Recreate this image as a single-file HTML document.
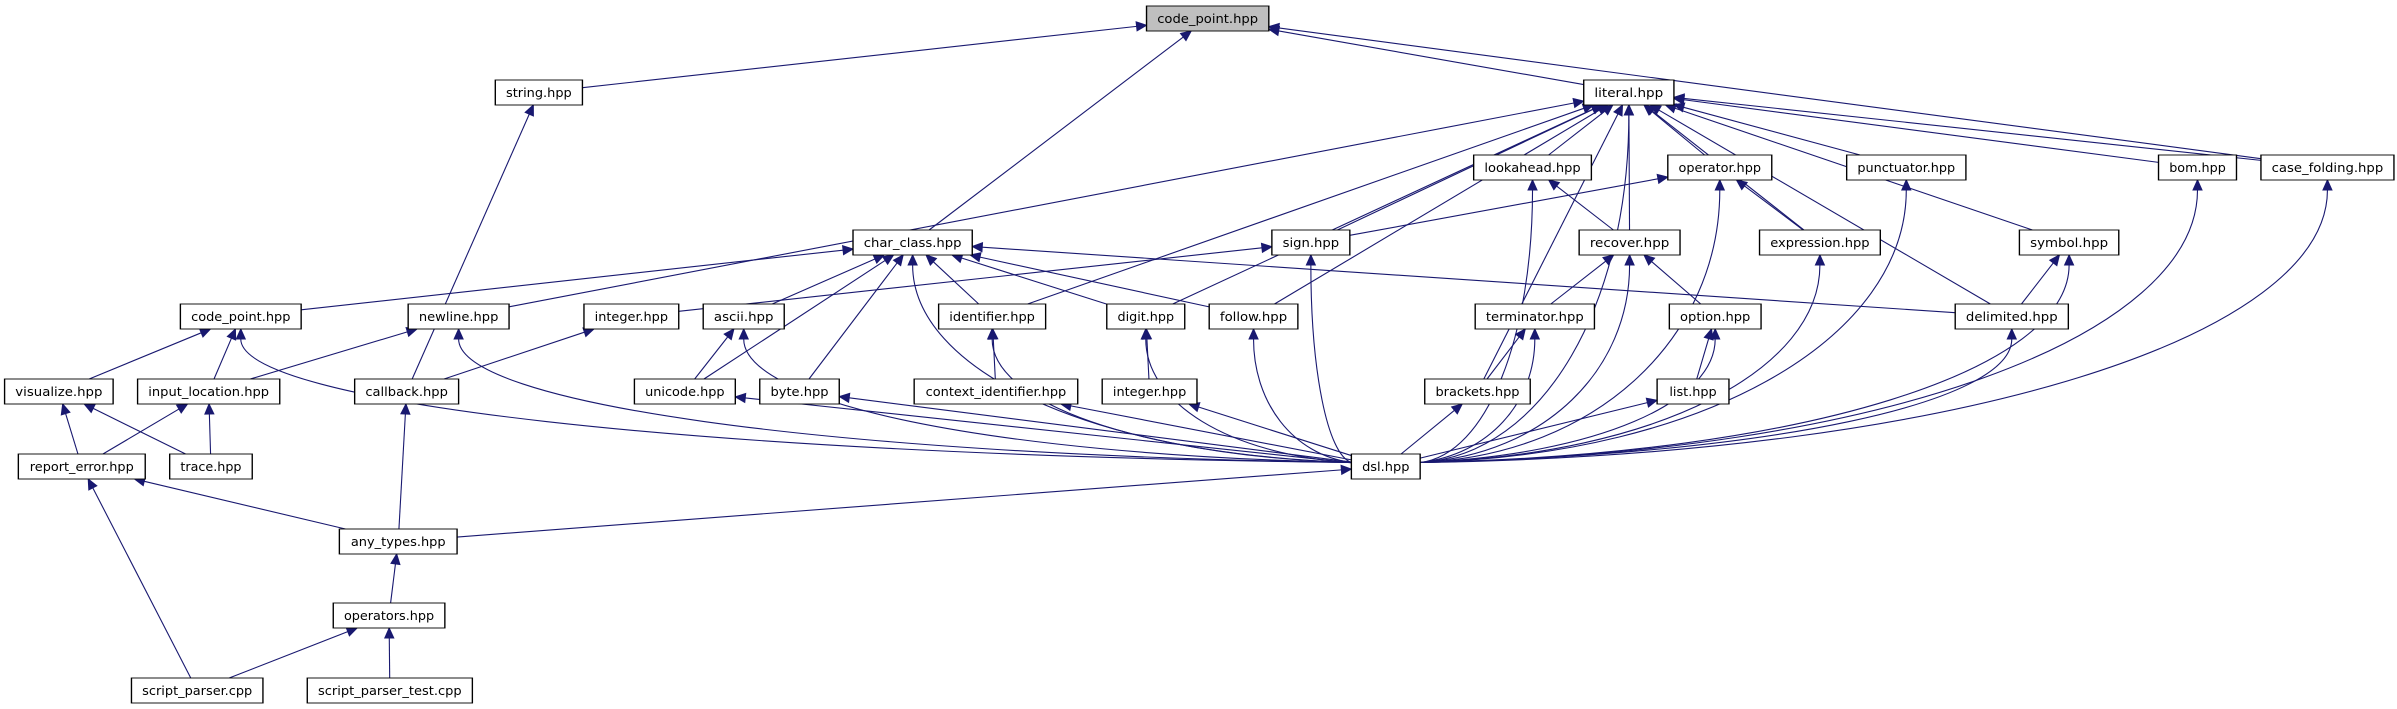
<!DOCTYPE html>
<html><head><meta charset="utf-8"><style>
html,body{margin:0;padding:0;background:#fff;}
#wrap{position:relative;width:2397px;height:709px;overflow:hidden;}
svg{position:absolute;left:0;top:0;}
text{font-family:"DejaVu Sans Condensed","Liberation Sans",sans-serif;font-size:12px;fill:#000;}
</style></head><body><div id="wrap">
<svg id="edges" width="2397" height="709"></svg>
<svg id="nodes" width="2397" height="709" viewBox="0 0 1568 709" preserveAspectRatio="none">
<g id="ng" stroke="#000" stroke-width="0.9" fill="#fff">
<rect x="750" y="6" width="80" height="25" fill="#bfbfbf"/>
<rect x="324" y="80" width="57" height="25"/>
<rect x="1036" y="80" width="59" height="25"/>
<rect x="964" y="155" width="77" height="25"/>
<rect x="1091" y="155" width="68" height="25"/>
<rect x="1208" y="155" width="78" height="25"/>
<rect x="1412" y="155" width="51" height="25"/>
<rect x="1479" y="155" width="87" height="25"/>
<rect x="558" y="230" width="78" height="25"/>
<rect x="832" y="230" width="51" height="25"/>
<rect x="1033" y="230" width="66" height="25"/>
<rect x="1151" y="230" width="79" height="25"/>
<rect x="1321" y="230" width="65" height="25"/>
<rect x="118" y="304" width="79" height="25"/>
<rect x="267" y="304" width="66" height="25"/>
<rect x="382" y="304" width="62" height="25"/>
<rect x="460" y="304" width="53" height="25"/>
<rect x="614" y="304" width="70" height="25"/>
<rect x="724" y="304" width="51" height="25"/>
<rect x="791" y="304" width="58" height="25"/>
<rect x="965" y="304" width="78" height="25"/>
<rect x="1092" y="304" width="60" height="25"/>
<rect x="1279" y="304" width="74" height="25"/>
<rect x="3" y="379" width="71" height="25"/>
<rect x="90" y="379" width="93" height="25"/>
<rect x="232" y="379" width="68" height="25"/>
<rect x="415" y="379" width="66" height="25"/>
<rect x="497" y="379" width="52" height="25"/>
<rect x="598" y="379" width="107" height="25"/>
<rect x="721" y="379" width="62" height="25"/>
<rect x="932" y="379" width="69" height="25"/>
<rect x="1084" y="379" width="47" height="25"/>
<rect x="12" y="454" width="83" height="25"/>
<rect x="111" y="454" width="54" height="25"/>
<rect x="884" y="454" width="45" height="25"/>
<rect x="222" y="529" width="77" height="25"/>
<rect x="218" y="603" width="73" height="25"/>
<rect x="86" y="678" width="86" height="25"/>
<rect x="201" y="678" width="108" height="25"/>
</g>
<g text-anchor="middle">
<text x="790" y="23" textLength="66" lengthAdjust="spacingAndGlyphs">code_point.hpp</text>
<text x="352.5" y="97" textLength="43" lengthAdjust="spacingAndGlyphs">string.hpp</text>
<text x="1065.5" y="97" textLength="45" lengthAdjust="spacingAndGlyphs">literal.hpp</text>
<text x="1002.5" y="172" textLength="63" lengthAdjust="spacingAndGlyphs">lookahead.hpp</text>
<text x="1125" y="172" textLength="54" lengthAdjust="spacingAndGlyphs">operator.hpp</text>
<text x="1247" y="172" textLength="64" lengthAdjust="spacingAndGlyphs">punctuator.hpp</text>
<text x="1437.5" y="172" textLength="37" lengthAdjust="spacingAndGlyphs">bom.hpp</text>
<text x="1522.5" y="172" textLength="73" lengthAdjust="spacingAndGlyphs">case_folding.hpp</text>
<text x="597" y="247" textLength="64" lengthAdjust="spacingAndGlyphs">char_class.hpp</text>
<text x="857.5" y="247" textLength="37" lengthAdjust="spacingAndGlyphs">sign.hpp</text>
<text x="1066" y="247" textLength="52" lengthAdjust="spacingAndGlyphs">recover.hpp</text>
<text x="1190.5" y="247" textLength="65" lengthAdjust="spacingAndGlyphs">expression.hpp</text>
<text x="1353.5" y="247" textLength="51" lengthAdjust="spacingAndGlyphs">symbol.hpp</text>
<text x="157.5" y="321" textLength="65" lengthAdjust="spacingAndGlyphs">code_point.hpp</text>
<text x="300" y="321" textLength="52" lengthAdjust="spacingAndGlyphs">newline.hpp</text>
<text x="413" y="321" textLength="48" lengthAdjust="spacingAndGlyphs">integer.hpp</text>
<text x="486.5" y="321" textLength="39" lengthAdjust="spacingAndGlyphs">ascii.hpp</text>
<text x="649" y="321" textLength="56" lengthAdjust="spacingAndGlyphs">identifier.hpp</text>
<text x="749.5" y="321" textLength="37" lengthAdjust="spacingAndGlyphs">digit.hpp</text>
<text x="820" y="321" textLength="44" lengthAdjust="spacingAndGlyphs">follow.hpp</text>
<text x="1004" y="321" textLength="64" lengthAdjust="spacingAndGlyphs">terminator.hpp</text>
<text x="1122" y="321" textLength="46" lengthAdjust="spacingAndGlyphs">option.hpp</text>
<text x="1316" y="321" textLength="60" lengthAdjust="spacingAndGlyphs">delimited.hpp</text>
<text x="38.5" y="396" textLength="57" lengthAdjust="spacingAndGlyphs">visualize.hpp</text>
<text x="136.5" y="396" textLength="79" lengthAdjust="spacingAndGlyphs">input_location.hpp</text>
<text x="266" y="396" textLength="54" lengthAdjust="spacingAndGlyphs">callback.hpp</text>
<text x="448" y="396" textLength="52" lengthAdjust="spacingAndGlyphs">unicode.hpp</text>
<text x="523" y="396" textLength="38" lengthAdjust="spacingAndGlyphs">byte.hpp</text>
<text x="651.5" y="396" textLength="92" lengthAdjust="spacingAndGlyphs">context_identifier.hpp</text>
<text x="752" y="396" textLength="48" lengthAdjust="spacingAndGlyphs">integer.hpp</text>
<text x="966.5" y="396" textLength="55" lengthAdjust="spacingAndGlyphs">brackets.hpp</text>
<text x="1107.5" y="396" textLength="31" lengthAdjust="spacingAndGlyphs">list.hpp</text>
<text x="53.5" y="471" textLength="68" lengthAdjust="spacingAndGlyphs">report_error.hpp</text>
<text x="138" y="471" textLength="40" lengthAdjust="spacingAndGlyphs">trace.hpp</text>
<text x="906.5" y="471" textLength="31" lengthAdjust="spacingAndGlyphs">dsl.hpp</text>
<text x="260.5" y="546" textLength="62" lengthAdjust="spacingAndGlyphs">any_types.hpp</text>
<text x="254.5" y="620" textLength="59" lengthAdjust="spacingAndGlyphs">operators.hpp</text>
<text x="129" y="695" textLength="72" lengthAdjust="spacingAndGlyphs">script_parser.cpp</text>
<text x="255" y="695" textLength="94" lengthAdjust="spacingAndGlyphs">script_parser_test.cpp</text>
</g>
</svg>
<script>
(function(){
var k=2397/1568;
var N={
cpt:[750,830,6],string:[324,381,80],literal:[1036,1095,80],lookahead:[964,1041,155],operator:[1091,1159,155],
punct:[1208,1286,155],bom:[1412,1463,155],casef:[1479,1566,155],charc:[558,636,230],sign:[832,883,230],
recover:[1033,1099,230],expr:[1151,1230,230],symbol:[1321,1386,230],cp2:[118,197,304],newline:[267,333,304],
int1:[382,444,304],ascii:[460,513,304],ident:[614,684,304],digit:[724,775,304],follow:[791,849,304],
term:[965,1043,304],option:[1092,1152,304],delim:[1279,1353,304],visual:[3,74,379],inloc:[90,183,379],
callback:[232,300,379],unicode:[415,481,379],byte:[497,549,379],ctxid:[598,705,379],int2:[721,783,379],
brackets:[932,1001,379],list:[1084,1131,379],report:[12,95,454],trace:[111,165,454],dsl:[884,929,454],
anyt:[222,299,529],ops:[218,291,603],sp:[86,172,678],spt:[201,309,678]};
var E=[["string","cpt"],["charc","cpt"],["literal","cpt"],["casef","cpt"],["callback","string"],
["newline","literal"],["ident","literal"],["digit","literal"],["follow","literal"],["sign","literal"],
["lookahead","literal"],["recover","literal"],["operator","literal"],["expr","literal"],["punct","literal"],
["delim","literal"],["symbol","literal"],["bom","literal"],["casef","literal"],["dsl","literal"],["brackets","literal"],
["cp2","charc"],["ascii","charc"],["unicode","charc"],["byte","charc"],["ident","charc"],["digit","charc"],
["follow","charc"],["delim","charc"],["dsl","charc"],["int1","sign"],["sign","operator"],["dsl","sign"],
["recover","lookahead"],["dsl","lookahead"],["term","recover"],["option","recover"],["dsl","recover"],
["expr","operator"],["dsl","operator"],["dsl","expr"],["dsl","punct"],["delim","symbol"],["dsl","symbol"],
["dsl","bom"],["dsl","casef"],["dsl","delim"],["visual","cp2"],["inloc","cp2"],["dsl","cp2"],
["inloc","newline"],["dsl","newline"],["callback","int1"],["unicode","ascii"],["dsl","ascii"],
["ctxid","ident"],["dsl","ident"],["int2","digit"],["dsl","digit"],["dsl","follow"],["brackets","term"],
["dsl","term"],["list","option"],["dsl","option"],["report","visual"],["trace","visual"],["report","inloc"],
["trace","inloc"],["anyt","callback"],["dsl","unicode"],["dsl","byte"],["dsl","ctxid"],["dsl","int2"],
["dsl","brackets"],["dsl","list"],["anyt","report"],["sp","report"],["anyt","dsl"],["ops","anyt"],
["sp","ops"],["spt","ops"]];
function box(n){var a=N[n];return {cx:(a[0]+a[1])/2*k,cy:a[2]+12.5,hw:(a[1]-a[0])/2*k,hh:12.5};}
function clip(b,dx,dy){var t=1e9;if(dx!==0)t=Math.min(t,b.hw/Math.abs(dx));if(dy!==0)t=Math.min(t,b.hh/Math.abs(dy));return t;}
var s="",C="#191970";
function arrow(x1,y1,ux,uy){var bx=x1-ux*10,by=y1-uy*10;
s+='<polygon points="'+x1+','+y1+' '+(bx-uy*4.5)+','+(by+ux*4.5)+' '+(bx+uy*4.5)+','+(by-ux*4.5)+'" fill="'+C+'" stroke="'+C+'"/>';return [bx,by];}
E.forEach(function(e){var a=box(e[0]),b=box(e[1]);
if(e[0]=="dsl"&&N[e[1]][2]<=304){
 var right=b.cx>a.cx;
 var x0=right?a.cx+a.hw:a.cx-a.hw, y0=a.cy-4;
 var x1=b.cx, y1=b.cy+b.hh;
 var c1x=x0+(x1-x0)*0.6, c1y=y0-8;
 var c2x=x1, c2y=y1+(y0-y1)*0.55;
 var ux=x1-c2x, uy=y1-c2y, L=Math.hypot(ux,uy); ux/=L; uy/=L;
 var p=arrow(x1,y1,ux,uy);
 s+='<path d="M'+x0+','+y0+' C'+c1x+','+c1y+' '+c2x+','+c2y+' '+p[0]+','+p[1]+'" fill="none" stroke="'+C+'" stroke-width="1.1"/>';
 return;}
var dx=b.cx-a.cx,dy=b.cy-a.cy;
var t0=clip(a,dx,dy),t1=1-clip(b,-dx,-dy);
var x0=a.cx+dx*t0,y0=a.cy+dy*t0,x1=a.cx+dx*t1,y1=a.cy+dy*t1;
var L=Math.hypot(x1-x0,y1-y0),ux=(x1-x0)/L,uy=(y1-y0)/L;
var p=arrow(x1,y1,ux,uy);
s+='<line x1="'+x0+'" y1="'+y0+'" x2="'+p[0]+'" y2="'+p[1]+'" stroke="'+C+'" stroke-width="1.1"/>';});
document.getElementById("edges").innerHTML=s;
})();
</script>
</div></body></html>
